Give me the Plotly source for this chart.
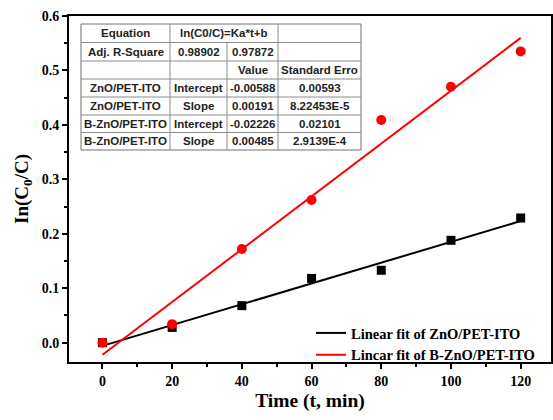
import plotly.graph_objects as go

# ---- data ----
time_min = [0, 20, 40, 60, 80, 100, 120]
zno = [0.0, 0.028, 0.068, 0.118, 0.133, 0.188, 0.229]
bzno = [0.0, 0.034, 0.172, 0.262, 0.409, 0.470, 0.535]

fit_intercepts = [-0.00588, -0.02226]
fit_slopes = [0.00191, 0.00485]
fit_names = ["Linear fit of ZnO/PET-ITO", "Lincar fit of B-ZnO/PET-ITO"]

table_rows = [
    ["Equation", "ln(C0/C)=Ka*t+b", None, ""],
    ["Adj. R-Square", "0.98902", "0.97872", ""],
    ["", "", "Value", "Standard Erro"],
    ["ZnO/PET-ITO", "Intercept", "-0.00588", "0.00593"],
    ["ZnO/PET-ITO", "Slope", "0.00191", "8.22453E-5"],
    ["B-ZnO/PET-ITO", "Intercept", "-0.02226", "0.02101"],
    ["B-ZnO/PET-ITO", "Slope", "0.00485", "2.9139E-4"],
]

# ---- layout geometry (pixels) ----
W, H = 553, 420
ML, MR, MT, MB = 69, 2, 16, 58
PW = W - ML - MR
PH = H - MT - MB

def px(x):
    return (x - ML) / PW

def py(y):
    return (H - MB - y) / PH

serif = "Liberation Serif, Times New Roman, serif"
sans = "Liberation Sans, Arial, sans-serif"

fig = go.Figure()

colors = ["black", "#ff0000"]
fit_t = [time_min[0], time_min[-1]]
for i in range(2):
    fig.add_trace(go.Scatter(
        x=fit_t, y=[fit_intercepts[i] + fit_slopes[i] * t for t in fit_t],
        mode="lines", line=dict(color=colors[i], width=2),
        name="<b>%s</b>" % fit_names[i], showlegend=True))

fig.add_trace(go.Scatter(x=time_min, y=zno, mode="markers",
                         marker=dict(symbol="square", size=9, color="black"),
                         showlegend=False))
fig.add_trace(go.Scatter(x=time_min, y=bzno, mode="markers",
                         marker=dict(symbol="circle", size=10, color="#ff0000"),
                         showlegend=False))

# ---- table (shapes + annotations) ----
col_x = [81, 170, 227, 278, 361]
row_y = [24, 42.5, 61, 79, 97, 115, 132.5, 150]
shapes = []
annots = []
line_col = "#8c8c8c"
shapes.append(dict(type="rect", xref="paper", yref="paper",
                   x0=px(col_x[0]), x1=px(col_x[-1]), y0=py(row_y[0]), y1=py(row_y[-1]),
                   line=dict(color="#707070", width=1), fillcolor="white", layer="above"))
for y in row_y[1:-1]:
    shapes.append(dict(type="line", xref="paper", yref="paper",
                       x0=px(col_x[0]), x1=px(col_x[-1]), y0=py(y), y1=py(y),
                       line=dict(color=line_col, width=1), layer="above"))
for r, row in enumerate(table_rows):
    for c in range(1, 4):
        if c == 2 and row[2] is None:
            continue
        shapes.append(dict(type="line", xref="paper", yref="paper",
                           x0=px(col_x[c]), x1=px(col_x[c]), y0=py(row_y[r]), y1=py(row_y[r + 1]),
                           line=dict(color=line_col, width=1), layer="above"))
for r, row in enumerate(table_rows):
    c = 0
    while c < 4:
        txt = row[c]
        span = 1
        if c + 1 < 4 and row[c + 1] is None:
            span = 2
        if txt:
            xc = (col_x[c] + col_x[c + span]) / 2
            yc = (row_y[r] + row_y[r + 1]) / 2
            annots.append(dict(xref="paper", yref="paper", x=px(xc), y=py(yc),
                               text="<b>%s</b>" % txt, showarrow=False,
                               font=dict(family=sans, size=11.5, color="#222"),
                               xanchor="center", yanchor="middle"))
        c += span

fig.update_layout(
    width=W, height=H,
    margin=dict(l=ML, r=MR, t=MT, b=MB),
    plot_bgcolor="white", paper_bgcolor="white",
    shapes=shapes, annotations=annots,
    showlegend=True,
    legend=dict(x=px(311), y=py(317), xanchor="left", yanchor="top",
                bgcolor="rgba(0,0,0,0)", itemwidth=30, tracegroupgap=0,
                font=dict(family=serif, size=14.5, color="black"),
                itemclick=False),
    xaxis=dict(range=[-9.6, 128.7], tickvals=[0, 20, 40, 60, 80, 100, 120],
               ticks="outside", ticklen=5, tickwidth=1.5, tickcolor="black",
               minor=dict(ticks="outside", ticklen=3, tickwidth=1.5, tickcolor="black", dtick=10, tick0=0),
               showline=True, linecolor="black", linewidth=2, mirror=True,
               showgrid=False, zeroline=False, automargin=False,
               tickfont=dict(family=serif, size=14, color="black", weight="bold"),
               title=dict(text="<b>Time (t, min)</b>", font=dict(family=serif, size=19.5, color="black"), standoff=6)),
    yaxis=dict(range=[-0.0355, 0.6], tickvals=[0.0, 0.1, 0.2, 0.3, 0.4, 0.5, 0.6],
               ticktext=["0.0", "0.1", "0.2", "0.3", "0.4", "0.5", "0.6"],
               ticks="outside", ticklen=5, tickwidth=1.5, tickcolor="black",
               minor=dict(ticks="outside", ticklen=3, tickwidth=1.5, tickcolor="black", dtick=0.05, tick0=0),
               showline=True, linecolor="black", linewidth=2, mirror=True,
               showgrid=False, zeroline=False, automargin=False,
               tickfont=dict(family=serif, size=14, color="black", weight="bold"),
               title=dict(text="<b>In(C<sub>0</sub>/C)</b>", font=dict(family=serif, size=19, color="black"), standoff=8)),
)

fig.write_html("out.html", config={"displayModeBar": False},
               post_script="document.body.style.margin='0';document.body.style.overflow='hidden';")
